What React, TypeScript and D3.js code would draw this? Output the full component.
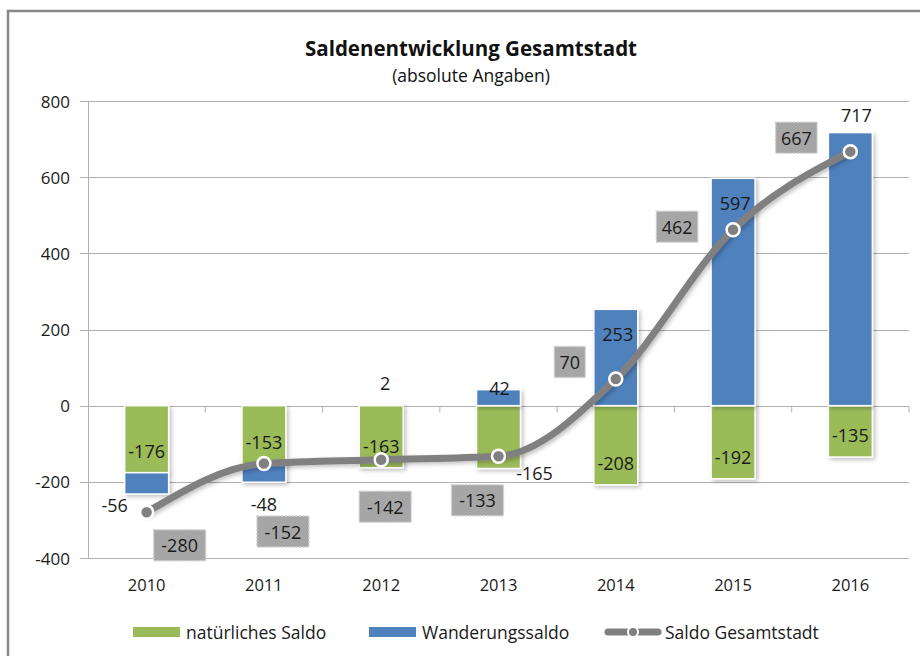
import React, { useEffect, useRef } from "react";
import * as d3 from "d3";

const years = ["2010", "2011", "2012", "2013", "2014", "2015", "2016"];
const natuerlich = [-176, -153, -163, -165, -208, -192, -135];
const wanderung = [-56, -48, 2, 42, 253, 597, 717];
const gesamt = [-280, -152, -142, -133, 70, 462, 667];
const yTicks = [-400, -200, 0, 200, 400, 600, 800];
const legendLabels = ["natürliches Saldo", "Wanderungssaldo", "Saldo Gesamtstadt"];

// hand placed label offsets (px), like in the original sheet
const natOffsets = [[0, -22], [0, -22], [0, -22], [36, 4], [0, -22], [0, -22], [0, -22]];
const wanOffsets = [[-32, 11], [0, 22], [4, -22], [1, -2], [2, 25], [2, 25], [6, -18]];
const gesOffsets = [[33, 33], [19, 68], [4, 47], [-21, 44], [-46, -17], [-56, -3], [-54, -14]];

const GREEN = "#9bbb59";
const BLUE = "#4f81bd";
const GREY = "#808080";
const FONT = "'Open Sans', 'Noto Sans', sans-serif";

export default function App() {
  const ref = useRef<SVGSVGElement>(null);

  useEffect(() => {
    const svg = d3.select(ref.current);
    svg.selectAll("*").remove();

    const left = 88, right = 909, top = 101, bottom = 558;

    const x = d3.scaleBand<string>()
      .domain(years)
      .range([left, right])
      .paddingInner(0.625)
      .paddingOuter(0.3125);
    const step = x.step();
    const cx = (i: number) => (x(years[i]) as number) + x.bandwidth() / 2;

    const y = d3.scaleLinear().domain([-400, 800]).range([bottom, top]);

    const defs = svg.append("defs");
    const f = defs.append("filter").attr("id", "shadow")
      .attr("x", "-20%").attr("y", "-20%").attr("width", "150%").attr("height", "150%");
    f.append("feDropShadow").attr("dx", 2).attr("dy", 2).attr("stdDeviation", 2)
      .attr("flood-color", "#000").attr("flood-opacity", 0.25);

    // chart frame
    svg.append("rect")
      .attr("x", 8).attr("y", 11).attr("width", 1000).attr("height", 1000)
      .attr("fill", "white").attr("stroke", "#888").attr("stroke-width", 2.5);

    // title
    svg.append("text").attr("x", 471).attr("y", 48)
      .attr("text-anchor", "middle").attr("dominant-baseline", "central")
      .attr("font-family", FONT).attr("font-weight", "bold").attr("font-size", 20.5)
      .attr("fill", "#111").text("Saldenentwicklung Gesamtstadt");
    svg.append("text").attr("x", 471).attr("y", 75)
      .attr("text-anchor", "middle").attr("dominant-baseline", "central")
      .attr("font-family", FONT).attr("font-size", 17.5)
      .attr("fill", "#111").text("(absolute Angaben)");

    // gridlines + y axis
    const grid = svg.append("g");
    grid.selectAll("line.grid").data(yTicks).join("line")
      .attr("class", "grid")
      .attr("x1", left - 8).attr("x2", right)
      .attr("y1", (d) => Math.round(y(d)) + 0.5).attr("y2", (d) => Math.round(y(d)) + 0.5)
      .attr("stroke", "#b0b0b0").attr("stroke-width", 1);
    grid.append("line")
      .attr("x1", left + 0.5).attr("x2", left + 0.5).attr("y1", top).attr("y2", bottom + 1)
      .attr("stroke", "#b0b0b0");
    grid.selectAll("text").data(yTicks).join("text")
      .attr("x", 70).attr("y", (d) => y(d))
      .attr("text-anchor", "end").attr("dominant-baseline", "central")
      .attr("font-family", FONT).attr("font-size", 17).attr("fill", "#1a1a1a")
      .text((d) => d);

    // category ticks on zero line
    const y0 = Math.round(y(0)) + 0.5;
    grid.selectAll("line.ct").data(d3.range(1, years.length + 1)).join("line")
      .attr("class", "ct")
      .attr("x1", (i) => left + i * step).attr("x2", (i) => left + i * step)
      .attr("y1", y0).attr("y2", y0 + 6)
      .attr("stroke", "#b0b0b0");

    // x labels
    svg.append("g").selectAll("text").data(years).join("text")
      .attr("x", (d, i) => cx(i)).attr("y", 584)
      .attr("text-anchor", "middle").attr("dominant-baseline", "central")
      .attr("font-family", FONT).attr("font-size", 16.5).attr("fill", "#1a1a1a")
      .text((d) => d);

    // bars
    const bars = svg.append("g");
    bars.selectAll("rect.nat").data(natuerlich).join("rect")
      .attr("class", "nat")
      .attr("x", (d, i) => x(years[i]) as number)
      .attr("width", x.bandwidth())
      .attr("y", (d) => y(Math.max(0, d)))
      .attr("height", (d) => Math.abs(y(d) - y(0)))
      .attr("fill", GREEN).attr("stroke", "white").attr("stroke-width", 1.5)
      .attr("filter", "url(#shadow)");
    const wanRange = wanderung.map((d, i) => d < 0 ? [natuerlich[i] + d, natuerlich[i]] : [0, d]);
    bars.selectAll("rect.wan").data(wanRange).join("rect")
      .attr("class", "wan")
      .attr("x", (d, i) => x(years[i]) as number)
      .attr("width", x.bandwidth())
      .attr("y", (d) => y(d[1]))
      .attr("height", (d) => y(d[0]) - y(d[1]))
      .attr("fill", BLUE).attr("stroke", "white").attr("stroke-width", 1.5)
      .attr("filter", "url(#shadow)");

    // bar labels
    const labels = svg.append("g")
      .attr("font-family", FONT).attr("font-size", 18).attr("fill", "#1a1a1a")
      .attr("text-anchor", "middle").attr("dominant-baseline", "central");
    labels.selectAll("text.nat").data(natuerlich).join("text")
      .attr("class", "nat")
      .attr("x", (d, i) => cx(i) + natOffsets[i][0])
      .attr("y", (d, i) => y(d) + natOffsets[i][1])
      .text((d) => d);
    labels.selectAll("text.wan").data(wanderung).join("text")
      .attr("class", "wan")
      .attr("x", (d, i) => cx(i) + wanOffsets[i][0])
      .attr("y", (d, i) => y(d < 0 ? natuerlich[i] + d : d) + wanOffsets[i][1])
      .text((d) => d);

    // total line
    const line = d3.line<number>()
      .x((d, i) => cx(i))
      .y((d) => y(d))
      .curve(d3.curveMonotoneX);
    svg.append("path").datum(gesamt)
      .attr("d", line)
      .attr("fill", "none").attr("stroke", GREY).attr("stroke-width", 7)
      .attr("stroke-linejoin", "round").attr("stroke-linecap", "round")
      .attr("filter", "url(#shadow)");
    svg.append("g").selectAll("circle").data(gesamt).join("circle")
      .attr("cx", (d, i) => cx(i)).attr("cy", (d) => y(d)).attr("r", 6.5)
      .attr("fill", GREY).attr("stroke", "white").attr("stroke-width", 2.5);

    // total labels in boxes
    const boxes = svg.append("g").selectAll("g").data(gesamt).join("g")
      .attr("transform", (d, i) => `translate(${cx(i) + gesOffsets[i][0]},${y(d) + gesOffsets[i][1]})`);
    boxes.append("rect")
      .attr("x", (d) => -(String(d).length * 10.5 + 10) / 2)
      .attr("y", -15.5)
      .attr("width", (d) => String(d).length * 10.5 + 10)
      .attr("height", 31)
      .attr("fill", "#a6a6a6").attr("stroke", "#d0d0d0").attr("stroke-width", 1.5)
      .attr("stroke-dasharray", "2,1.5");
    boxes.append("text")
      .attr("text-anchor", "middle").attr("dominant-baseline", "central")
      .attr("font-family", FONT).attr("font-size", 18).attr("fill", "#1a1a1a")
      .text((d) => d);

    // legend
    const lg = svg.append("g").attr("font-family", FONT).attr("font-size", 17.5).attr("fill", "#1a1a1a");
    const ly = 632;
    lg.append("rect").attr("x", 133).attr("y", ly - 5).attr("width", 47).attr("height", 10).attr("fill", GREEN);
    lg.append("text").attr("x", 186).attr("y", ly).attr("dominant-baseline", "central").text(legendLabels[0]);
    lg.append("rect").attr("x", 369).attr("y", ly - 5).attr("width", 47).attr("height", 10).attr("fill", BLUE);
    lg.append("text").attr("x", 422).attr("y", ly).attr("dominant-baseline", "central").text(legendLabels[1]);
    lg.append("line").attr("x1", 608).attr("x2", 658).attr("y1", ly).attr("y2", ly)
      .attr("stroke", GREY).attr("stroke-width", 7).attr("stroke-linecap", "round");
    lg.append("circle").attr("cx", 633).attr("cy", ly).attr("r", 5)
      .attr("fill", GREY).attr("stroke", "white").attr("stroke-width", 2);
    lg.append("text").attr("x", 665).attr("y", ly).attr("dominant-baseline", "central").text(legendLabels[2]);
  }, []);

  return (
    <svg
      ref={ref}
      width={920}
      height={656}
      style={{ position: "fixed", left: 0, top: 0, background: "white" }}
    />
  );
}
